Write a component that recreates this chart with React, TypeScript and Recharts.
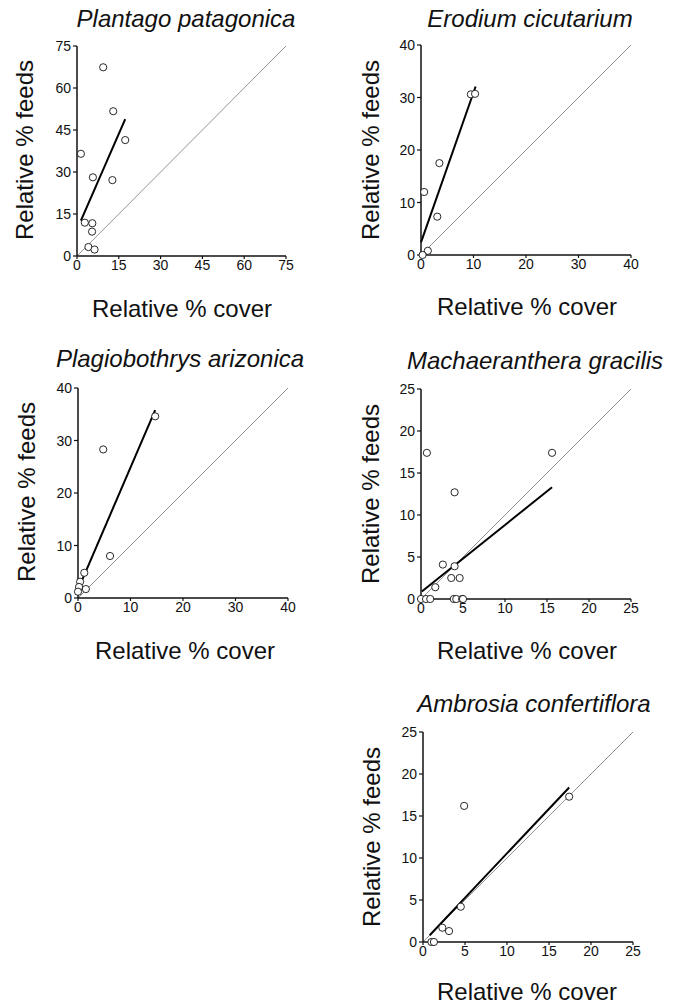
import React from "react";
import { ScatterChart, Scatter, XAxis, YAxis, ReferenceLine } from "recharts";

// ---- Data ----
const plantagoCover = [9.4, 13.0, 17.3, 1.4, 5.7, 12.7, 2.8, 5.5, 5.4, 4.1, 6.3];
const plantagoFeeds = [67.4, 51.7, 41.4, 36.5, 28.1, 27.1, 11.9, 11.7, 8.7, 3.2, 2.3];
const plantagoFit = [
  [1.4, 12.6],
  [17.3, 48.9],
];
const plantagoTicks = [0, 15, 30, 45, 60, 75];

const erodiumCover = [9.5, 10.3, 3.5, 0.6, 3.1, 1.3, 0.3];
const erodiumFeeds = [30.6, 30.7, 17.5, 12.0, 7.3, 0.8, 0.0];
const erodiumFit = [
  [0.0, 2.4],
  [10.4, 32.1],
];
const erodiumTicks = [0, 10, 20, 30, 40];

const plagioCover = [14.7, 4.8, 6.1, 1.2, 0.4, 0.2, 1.5, 0.0];
const plagioFeeds = [34.6, 28.3, 8.0, 4.8, 3.1, 2.1, 1.7, 1.2];
const plagioFit = [
  [0.0, 1.6],
  [14.7, 35.8],
];
const plagioTicks = [0, 10, 20, 30, 40];

const machaerCover = [0.7, 15.6, 4.0, 2.6, 4.0, 3.6, 4.6, 1.7, 0.0, 0.6, 1.1, 3.9, 4.2, 4.9, 5.0];
const machaerFeeds = [17.4, 17.4, 12.7, 4.1, 3.9, 2.5, 2.5, 1.4, 0, 0, 0, 0, 0, 0, 0];
const machaerFit = [
  [0.1, 0.9],
  [15.6, 13.3],
];
const machaerTicks = [0, 5, 10, 15, 20, 25];

const ambrosiaCover = [17.4, 4.9, 4.5, 2.3, 3.1, 1.0, 1.3];
const ambrosiaFeeds = [17.3, 16.2, 4.2, 1.7, 1.3, 0, 0];
const ambrosiaFit = [
  [0.8, 0.8],
  [17.4, 18.4],
];
const ambrosiaTicks = [0, 5, 10, 15, 20, 25];

const titles = [
  "Plantago patagonica",
  "Erodium cicutarium",
  "Plagiobothrys arizonica",
  "Machaeranthera gracilis",
  "Ambrosia confertiflora",
];
const yLabel = "Relative % feeds";
const xLabel = "Relative % cover";

const FONT = "'Liberation Sans', Arial, Helvetica, sans-serif";

type PanelProps = {
  left: number;
  top: number;
  cover: number[];
  feeds: number[];
  fit: number[][];
  ticks: number[];
  plotW?: number;
};

const Circle = (props: any) => {
  const { cx, cy } = props;
  if (cx == null || cy == null) return null;
  return <circle cx={cx} cy={cy} r={3.6} fill="#fff" stroke="#111" strokeWidth={0.9} />;
};

const XTick = (props: any) => {
  const { x, y, payload } = props;
  return (
    <text x={x} y={y + 10.5} textAnchor="middle" fontFamily={FONT} fontSize={14} fill="#111">
      {payload.value}
    </text>
  );
};

const YTick = (props: any) => {
  const { x, y, payload } = props;
  return (
    <text x={x} y={y + 5} textAnchor="end" fontFamily={FONT} fontSize={14} fill="#111">
      {payload.value}
    </text>
  );
};

function Panel({ left, top, cover, feeds, fit, ticks, plotW = 210 }: PanelProps) {
  const data = cover.map((x, i) => ({ x, y: feeds[i] }));
  const max = ticks[ticks.length - 1];
  const YW = 60;
  const MT = 10;
  const XH = 30;
  const MR = 10;
  const plotH = 210;
  return (
    <div style={{ position: "absolute", left: left - YW, top: top - MT }}>
      <ScatterChart
        width={YW + plotW + MR}
        height={MT + plotH + XH}
        margin={{ top: MT, right: MR, bottom: 0, left: 0 }}
      >
        <XAxis
          type="number"
          dataKey="x"
          domain={[0, max]}
          ticks={ticks}
          interval={0}
          height={XH}
          tickSize={3}
          tickMargin={0}
          axisLine={{ stroke: "#111", strokeWidth: 1.5 }}
          tickLine={{ stroke: "#111", strokeWidth: 1.2 }}
          tick={<XTick />}
        />
        <YAxis
          type="number"
          dataKey="y"
          domain={[0, max]}
          ticks={ticks}
          interval={0}
          width={YW}
          tickSize={4}
          tickMargin={2}
          axisLine={{ stroke: "#111", strokeWidth: 1.5 }}
          tickLine={{ stroke: "#111", strokeWidth: 1.2 }}
          tick={<YTick />}
        />
        <ReferenceLine
          segment={[
            { x: 0, y: 0 },
            { x: max, y: max },
          ]}
          stroke="#777"
          strokeWidth={0.8}
          ifOverflow="visible"
        />
        <ReferenceLine
          segment={[
            { x: fit[0][0], y: fit[0][1] },
            { x: fit[1][0], y: fit[1][1] },
          ]}
          stroke="#000"
          strokeWidth={2}
          ifOverflow="visible"
        />
        <Scatter data={data} shape={<Circle />} isAnimationActive={false} />
      </ScatterChart>
    </div>
  );
}

const titlePos = [
  [186, 27],
  [530, 27],
  [180, 367],
  [535, 369],
  [534, 712],
];
const yLabelPos = [
  [33, 150],
  [379, 150],
  [35, 492],
  [379, 494],
  [380, 837],
];
const xLabelPos = [
  [182, 317],
  [527, 315],
  [185, 659],
  [527, 659],
  [527, 1000],
];

export default function App() {
  return (
    <div
      style={{
        position: "absolute",
        left: 0,
        top: 0,
        width: 677,
        height: 1006,
        background: "#fff",
        overflow: "hidden",
      }}
    >
      <Panel left={77} top={46} plotW={209} cover={plantagoCover} feeds={plantagoFeeds} fit={plantagoFit} ticks={plantagoTicks} />
      <Panel left={421} top={45} cover={erodiumCover} feeds={erodiumFeeds} fit={erodiumFit} ticks={erodiumTicks} />
      <Panel left={78} top={388} cover={plagioCover} feeds={plagioFeeds} fit={plagioFit} ticks={plagioTicks} />
      <Panel left={421} top={389} cover={machaerCover} feeds={machaerFeeds} fit={machaerFit} ticks={machaerTicks} />
      <Panel left={423} top={732} cover={ambrosiaCover} feeds={ambrosiaFeeds} fit={ambrosiaFit} ticks={ambrosiaTicks} />
      <svg
        width={677}
        height={1006}
        style={{ position: "absolute", left: 0, top: 0, pointerEvents: "none" }}
      >
        {titles.map((t, i) => (
          <text
            key={"t" + i}
            x={titlePos[i][0]}
            y={titlePos[i][1]}
            textAnchor="middle"
            fontFamily={FONT}
            fontStyle="italic"
            fontSize={24}
            fill="#111"
          >
            {t}
          </text>
        ))}
        {yLabelPos.map((p, i) => (
          <text
            key={"y" + i}
            transform={`translate(${p[0]},${p[1]}) rotate(-90)`}
            textAnchor="middle"
            fontFamily={FONT}
            fontSize={24}
            fill="#111"
          >
            {yLabel}
          </text>
        ))}
        {xLabelPos.map((p, i) => (
          <text
            key={"x" + i}
            x={p[0]}
            y={p[1]}
            textAnchor="middle"
            fontFamily={FONT}
            fontSize={24}
            fill="#111"
          >
            {xLabel}
          </text>
        ))}
      </svg>
    </div>
  );
}
